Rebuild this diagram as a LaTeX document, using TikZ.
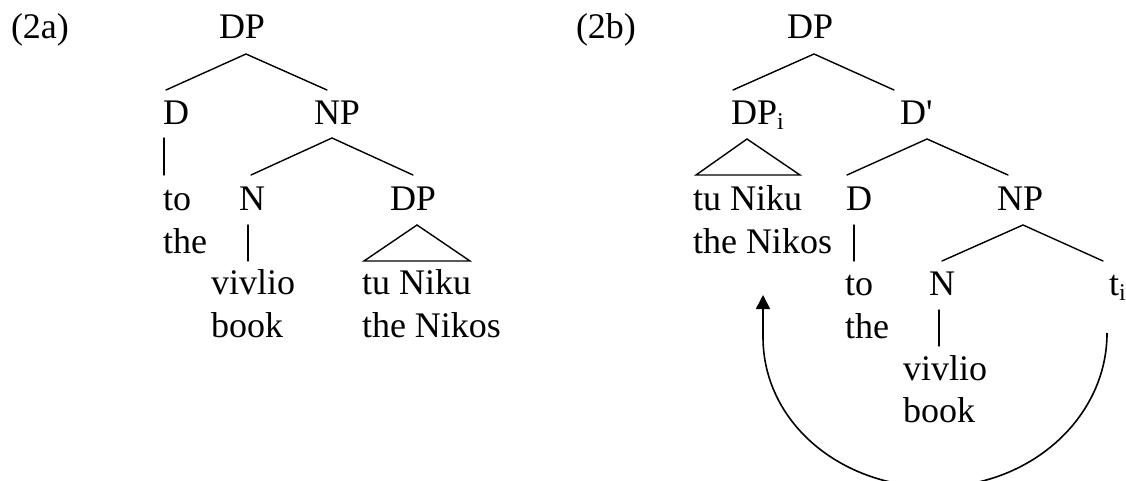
\documentclass[tikz,border=0pt]{standalone}
\usepackage{fontspec}
\setmainfont{Liberation Serif}
\usetikzlibrary{arrows.meta}

% lowered index letter used on traces and moved phrases
\newcommand\lowi{\raisebox{-5pt}{\fontsize{24}{24}\selectfont i}}

\begin{document}
\begin{tikzpicture}[x=1pt, y=-1pt,
    every node/.style={font=\fontsize{36}{42}\selectfont, inner sep=0pt, outer sep=0pt, anchor=base west},
    branch/.style={line width=1.4pt, line cap=round},
    movement/.style={line width=1.6pt, -{Triangle[length=14pt, width=14pt]}}]

  \useasboundingbox (0,0) rectangle (1126,481);
  \clip (0,0) rectangle (1126,481);
  \fill[white] (0,0) rectangle (1126,481);

  % ---------- (2a) ----------
  \node (labA)  at (11,39)   {(2a)};
  \node (dpA)   at (219,39)  {DP};
  \node (dA)    at (163,125) {D};
  \node (npA)   at (314,125) {NP};
  \node (toA)   at (163,210) {to};
  \node (theA)  at (163,253) {the};
  \node (nA)    at (239,210) {N};
  \node (dpsA)  at (390,210) {DP};
  \node (vivA)  at (211,294) {vivlio};
  \node (bookA) at (211,337) {book};
  \node (tuA)   at (362,294) {tu Niku};
  \node (nikA)  at (362,337) {the Nikos};

  \draw[branch] ([shift={(3,-35)}]dA.base west) -- ([shift={(27,15)}]dpA.base west)
                -- ([shift={(13,-35)}]npA.base west);
  \draw[branch] ([shift={(1,13)}]dA.base west) -- ([shift={(1,-35)}]toA.base west);
  \draw[branch] ([shift={(12,-35)}]nA.base west) -- ([shift={(18,13)}]npA.base west)
                -- ([shift={(23,-35)}]dpsA.base west);
  \draw[branch] ([shift={(9,15)}]nA.base west) -- ([shift={(37,-33)}]vivA.base west);
  \draw[branch] ([shift={(27,15)}]dpsA.base west) -- ([shift={(2,-33)}]tuA.base west)
                -- ([shift={(108,-33)}]tuA.base west) -- cycle;

  % ---------- (2b) ----------
  \node (labB)  at (576,39)  {(2b)};
  \node (dpB)   at (787,39)  {DP};
  \node (dpiB)  at (731,125) {DP\lowi};
  \node (dbB)   at (900,125) {D\textquotesingle};
  \node (tuB)   at (693,210) {tu Niku};
  \node (nikB)  at (693,253) {the Nikos};
  \node (dB)    at (846,210) {D};
  \node (npB)   at (997,210) {NP};
  \node (toB)   at (845,295) {to};
  \node (theB)  at (845,338) {the};
  \node (nB)    at (929,295) {N};
  \node (tB)    at (1109,295) {t\lowi};
  \node (vivB)  at (903,380) {vivlio};
  \node (bookB) at (903,422) {book};

  \draw[branch] ([shift={(2,-35)}]dpiB.base west) -- ([shift={(27,15)}]dpB.base west)
                -- ([shift={(-6,-35)}]dbB.base west);
  \draw[branch] ([shift={(16,14)}]dpiB.base west) -- ([shift={(3,-35)}]tuB.base west)
                -- ([shift={(107,-35)}]tuB.base west) -- cycle;
  \draw[branch] ([shift={(1,-35)}]dB.base west) -- ([shift={(27,14)}]dbB.base west)
                -- ([shift={(11,-35)}]npB.base west);
  \draw[branch] ([shift={(8,15)}]dB.base west) -- ([shift={(9,-34)}]toB.base west);
  \draw[branch] ([shift={(13,-34)}]nB.base west) -- ([shift={(26,15)}]npB.base west)
                -- ([shift={(-6,-34)}]tB.base west);
  \draw[branch] ([shift={(10,15)}]nB.base west) -- ([shift={(36,-34)}]vivB.base west);

  % movement of the possessor from the trace up to the specifier
  \coordinate (moveFrom) at ([shift={(-2,38)}]tB.base west);
  \coordinate (moveTo)   at ([shift={(70,42)}]nikB.base west);
  \coordinate (arcLow)   at (935,487);
  \coordinate (arcLeft)  at (763,337);
  \draw[movement] (moveFrom) .. controls +(0,85) and +(95,0) .. (arcLow)
                  .. controls +(-95,0) and +(0,85) .. (arcLeft) -- (moveTo);
\end{tikzpicture}
\end{document}
